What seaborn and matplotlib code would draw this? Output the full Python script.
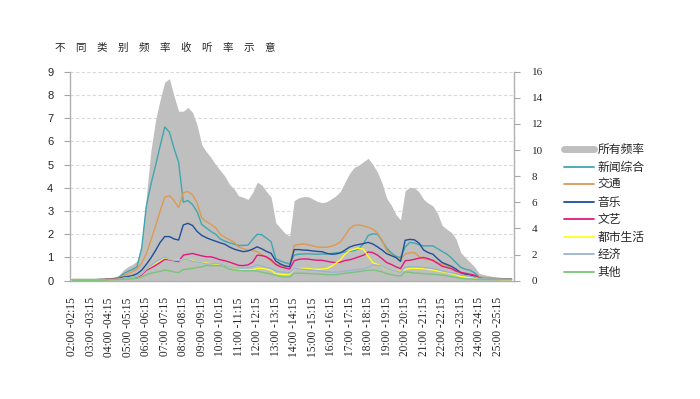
import numpy as np
import pandas as pd
import matplotlib
matplotlib.use("Agg")
import matplotlib.pyplot as plt
from matplotlib.lines import Line2D
import seaborn as sns

# hourly tick labels, one 15-minute slot per point
hours = list(range(2, 26))
hour_labels = [f"{h:02d}:00 -{h:02d}:15" for h in hours]
slots = [f"{h:02d}:{m:02d}" for h in hours for m in (0, 15, 30, 45)]

all_freq = [0.05, 0.06, 0.07, 0.07, 0.08, 0.08, 0.08, 0.09, 0.1, 0.12,
            0.2, 0.45, 0.6, 0.7, 0.85, 1.6, 3.6, 5.6, 6.9, 7.8,
            8.55, 8.7, 7.95, 7.3, 7.3, 7.46, 7.25, 6.7, 5.85, 5.55,
            5.3, 5.0, 4.75, 4.5, 4.15, 3.95, 3.65, 3.59, 3.5, 3.8,
            4.24, 4.12, 3.84, 3.6, 2.5, 2.27, 2.05, 1.92, 3.45, 3.57,
            3.62, 3.62, 3.52, 3.42, 3.36, 3.4, 3.52, 3.65, 3.85, 4.25,
            4.63, 4.88, 4.98, 5.13, 5.27, 5.0, 4.68, 4.2, 3.55, 3.25,
            2.85, 2.62, 3.88, 4.02, 4.0, 3.82, 3.5, 3.34, 3.22, 2.9,
            2.38, 2.22, 2.08, 1.8, 1.22, 1.0, 0.8, 0.6, 0.32, 0.26,
            0.22, 0.18, 0.15, 0.12, 0.1, 0.08]

news = [0.05, 0.05, 0.05, 0.05, 0.05, 0.05, 0.06, 0.06, 0.08, 0.1,
        0.15, 0.28, 0.4, 0.48, 0.6, 1.4, 3.2, 4.15, 4.95, 5.8,
        6.62, 6.4, 5.7, 5.1, 3.38, 3.45, 3.28, 2.97, 2.42, 2.27,
        2.12, 2.0, 1.8, 1.7, 1.63, 1.57, 1.52, 1.52, 1.53, 1.78,
        2.0, 1.98, 1.83, 1.68, 0.95, 0.85, 0.78, 0.72, 1.1, 1.14,
        1.15, 1.16, 1.15, 1.14, 1.15, 1.15, 1.17, 1.2, 1.21, 1.23,
        1.27, 1.3, 1.38, 1.6, 1.95, 2.02, 2.0, 1.72, 1.4, 1.2,
        1.05, 1.0, 1.45, 1.65, 1.62, 1.55, 1.5, 1.5, 1.5, 1.38,
        1.26, 1.15, 0.98, 0.78, 0.58, 0.5, 0.45, 0.34, 0.16, 0.1,
        0.09, 0.08, 0.08, 0.07, 0.07, 0.06]

traffic = [0.05, 0.05, 0.05, 0.05, 0.05, 0.05, 0.05, 0.06, 0.07, 0.08,
           0.12, 0.2, 0.3, 0.38, 0.5, 0.75, 1.15, 1.75, 2.35, 3.0,
           3.6, 3.66, 3.45, 3.15, 3.78, 3.84, 3.7, 3.35, 2.7, 2.55,
           2.42, 2.28, 2.0, 1.87, 1.77, 1.65, 1.45, 1.38, 1.32, 1.3,
           1.25, 1.12, 1.0, 0.85, 0.72, 0.67, 0.62, 0.6, 1.52, 1.56,
           1.58, 1.55, 1.5, 1.45, 1.44, 1.44, 1.48, 1.55, 1.68, 1.95,
           2.25, 2.38, 2.4, 2.36, 2.3, 2.22, 2.05, 1.75, 1.3, 1.1,
           1.0, 0.92, 1.15, 1.2, 1.21, 1.05, 0.95, 0.9, 0.89, 0.78,
           0.7, 0.65, 0.52, 0.4, 0.32, 0.28, 0.24, 0.2, 0.15, 0.14,
           0.13, 0.12, 0.1, 0.09, 0.08, 0.08]

music = [0.04, 0.04, 0.04, 0.04, 0.04, 0.04, 0.05, 0.05, 0.06, 0.07,
         0.1, 0.15, 0.18, 0.22, 0.3, 0.45, 0.7, 0.98, 1.3, 1.65,
         1.9, 1.9, 1.8, 1.75, 2.4, 2.47, 2.38, 2.12, 1.95, 1.85,
         1.77, 1.7, 1.63, 1.57, 1.45, 1.36, 1.3, 1.25, 1.28, 1.36,
         1.46, 1.37, 1.26, 1.18, 0.85, 0.72, 0.64, 0.6, 1.34, 1.34,
         1.32, 1.31, 1.28, 1.26, 1.25, 1.18, 1.14, 1.15, 1.2, 1.32,
         1.45, 1.52, 1.56, 1.6, 1.65, 1.58, 1.46, 1.32, 1.16, 1.08,
         1.0, 0.83, 1.74, 1.78, 1.76, 1.62, 1.32, 1.21, 1.14, 0.95,
         0.78, 0.7, 0.62, 0.5, 0.35, 0.28, 0.25, 0.18, 0.1, 0.08,
         0.08, 0.08, 0.07, 0.07, 0.07, 0.07]

arts = [0.03, 0.03, 0.03, 0.03, 0.03, 0.03, 0.04, 0.05, 0.06, 0.06,
        0.08, 0.1, 0.12, 0.14, 0.15, 0.25, 0.45, 0.55, 0.66, 0.78,
        0.92, 0.9, 0.86, 0.82, 1.1, 1.14, 1.17, 1.12, 1.07, 1.03,
        1.03, 0.97, 0.9, 0.86, 0.8, 0.73, 0.66, 0.65, 0.68, 0.8,
        1.1, 1.08, 1.03, 0.9, 0.7, 0.6, 0.55, 0.5, 0.86, 0.92,
        0.94, 0.93, 0.9, 0.88, 0.88, 0.84, 0.8, 0.78, 0.8, 0.87,
        0.9, 0.96, 1.03, 1.1, 1.24, 1.21, 1.1, 0.95, 0.78, 0.7,
        0.6, 0.52, 0.86, 0.88, 0.92, 0.97, 1.0, 0.95, 0.87, 0.75,
        0.62, 0.57, 0.52, 0.42, 0.36, 0.32, 0.28, 0.24, 0.12, 0.08,
        0.07, 0.07, 0.06, 0.06, 0.06, 0.06]

city = [0.03, 0.03, 0.03, 0.03, 0.03, 0.03, 0.04, 0.04, 0.05, 0.05,
        0.06, 0.1, 0.12, 0.15, 0.18, 0.3, 0.5, 0.62, 0.75, 0.88,
        1.0, 0.92, 0.9, 0.88, 0.9, 0.9, 0.87, 0.8, 0.76, 0.76,
        0.72, 0.7, 0.7, 0.66, 0.6, 0.55, 0.5, 0.47, 0.46, 0.47,
        0.53, 0.53, 0.5, 0.45, 0.3, 0.28, 0.26, 0.28, 0.52, 0.53,
        0.53, 0.52, 0.5, 0.49, 0.5, 0.52, 0.62, 0.75, 0.9, 1.15,
        1.3, 1.36, 1.4, 1.35, 1.05, 0.78, 0.7, 0.6, 0.5, 0.47,
        0.42, 0.4, 0.48, 0.53, 0.53, 0.53, 0.52, 0.49, 0.46, 0.42,
        0.38, 0.35, 0.3, 0.25, 0.18, 0.16, 0.15, 0.12, 0.08, 0.07,
        0.06, 0.06, 0.06, 0.05, 0.05, 0.05]

economy = [0.03, 0.03, 0.03, 0.03, 0.03, 0.03, 0.04, 0.04, 0.05, 0.05,
           0.06, 0.1, 0.12, 0.15, 0.2, 0.3, 0.5, 0.65, 0.8, 0.92,
           1.03, 0.92, 0.88, 0.86, 0.9, 0.9, 0.84, 0.8, 0.76, 0.72,
           0.72, 0.74, 0.72, 0.66, 0.6, 0.56, 0.54, 0.54, 0.56, 0.6,
           0.68, 0.64, 0.58, 0.52, 0.42, 0.38, 0.36, 0.34, 0.53, 0.51,
           0.49, 0.47, 0.45, 0.43, 0.41, 0.39, 0.36, 0.37, 0.39, 0.41,
           0.44, 0.46, 0.48, 0.5, 0.58, 0.68, 0.66, 0.62, 0.52, 0.46,
           0.42, 0.36, 0.58, 0.6, 0.6, 0.6, 0.57, 0.55, 0.52, 0.48,
           0.42, 0.38, 0.34, 0.3, 0.25, 0.22, 0.19, 0.15, 0.1, 0.08,
           0.07, 0.07, 0.06, 0.06, 0.06, 0.06]

other = [0.02, 0.02, 0.02, 0.02, 0.02, 0.02, 0.03, 0.03, 0.04, 0.04,
         0.05, 0.06, 0.07, 0.08, 0.1, 0.16, 0.25, 0.32, 0.36, 0.4,
         0.46, 0.42, 0.38, 0.35, 0.48, 0.5, 0.53, 0.57, 0.6, 0.65,
         0.65, 0.65, 0.65, 0.6, 0.5, 0.46, 0.44, 0.43, 0.43, 0.43,
         0.42, 0.36, 0.33, 0.28, 0.24, 0.18, 0.16, 0.15, 0.32, 0.32,
         0.32, 0.31, 0.3, 0.29, 0.28, 0.26, 0.25, 0.26, 0.29, 0.32,
         0.34, 0.37, 0.39, 0.42, 0.45, 0.46, 0.43, 0.38, 0.3, 0.26,
         0.22, 0.2, 0.38, 0.36, 0.33, 0.32, 0.3, 0.29, 0.28, 0.26,
         0.24, 0.21, 0.17, 0.14, 0.1, 0.08, 0.07, 0.06, 0.05, 0.05,
         0.05, 0.05, 0.05, 0.05, 0.05, 0.05]

series_names = ["新闻综合", "交通", "音乐", "文艺", "都市生活", "经济", "其他"]
series_values = [news, traffic, music, arts, city, economy, other]
series_colors = ["#3FA7AF", "#DD9A50", "#1F4E9C", "#E2197C", "#FFFF1A", "#9BB3D4", "#79C47A"]
area_name = "所有频率"
area_color = "#BFBFBF"

sns.set_style("white")
plt.rcParams['font.family'] = ['Noto Sans CJK SC', 'DejaVu Sans']

pos = np.arange(len(slots))
df = pd.DataFrame({"pos": pos, "slot": slots, area_name: all_freq})
for name, vals in zip(series_names, series_values):
    df[name] = vals

fig = plt.figure(figsize=(7, 3.99), dpi=100)
ax = fig.add_axes([0.1, 0.2965, 0.634, 0.5238])

# grey area for all frequencies
ax.fill_between(df["pos"], 0, df[area_name], color=area_color, lw=0, zorder=1)

# category lines
for name, col in zip(series_names, series_colors):
    sns.lineplot(data=df, x="pos", y=name, ax=ax, color=col, lw=1.0, zorder=3)

ax.set_xlim(-0.5, len(slots) - 0.5)
ax.set_ylim(0, 9)
ax.set_yticks(range(0, 10))
ax.set_xticks(pos[::4])
ax.set_xticklabels(hour_labels, rotation=90, family=['Liberation Serif'], fontsize=8.3)
ax.set_xlabel("")
ax.set_ylabel("")
ax.grid(axis="y", color="#D9D9D9", ls=(0, (3, 2)), lw=0.8, zorder=0)
ax.set_axisbelow(True)
ax.tick_params(axis="x", length=0, pad=12)
ax.tick_params(axis="y", length=4, color="#A6A6A6", width=0.8, pad=8,
               labelsize=8)
for lab in ax.get_yticklabels():
    lab.set_family(['Liberation Sans'])
for s in ["left", "bottom"]:
    ax.spines[s].set_color("#B0B0B0")
    ax.spines[s].set_linewidth(1.0)
ax.spines["top"].set_visible(False)
ax.spines["right"].set_visible(False)

# right axis
ax2 = ax.twinx()
ax2.set_ylim(0, 16)
ax2.set_yticks(range(0, 17, 2))
ax2.tick_params(axis="y", length=4, color="#A6A6A6", width=0.8, pad=9, labelsize=8)
for lab in ax2.get_yticklabels():
    lab.set_family(['Liberation Serif'])
ax2.spines["right"].set_color("#B0B0B0")
ax2.spines["right"].set_linewidth(1.0)
for s in ["left", "top", "bottom"]:
    ax2.spines[s].set_visible(False)

fig.text(0.079, 0.881, "\u3000".join("不同类别频率收听率示意"), fontsize=7.6,
         ha="left", va="center")

handles = [Line2D([], [], color=area_color, lw=5)]
handles += [Line2D([], [], color=c, lw=1.3) for c in series_colors]
labels = [area_name] + series_names
fig.legend(handles, labels, loc="upper left", bbox_to_anchor=(0.806, 0.641),
           frameon=False, fontsize=8.5, handlelength=2.55, handletextpad=0.3,
           labelspacing=0.38, borderpad=0, borderaxespad=0)

fig.savefig("out.png", dpi=100)
